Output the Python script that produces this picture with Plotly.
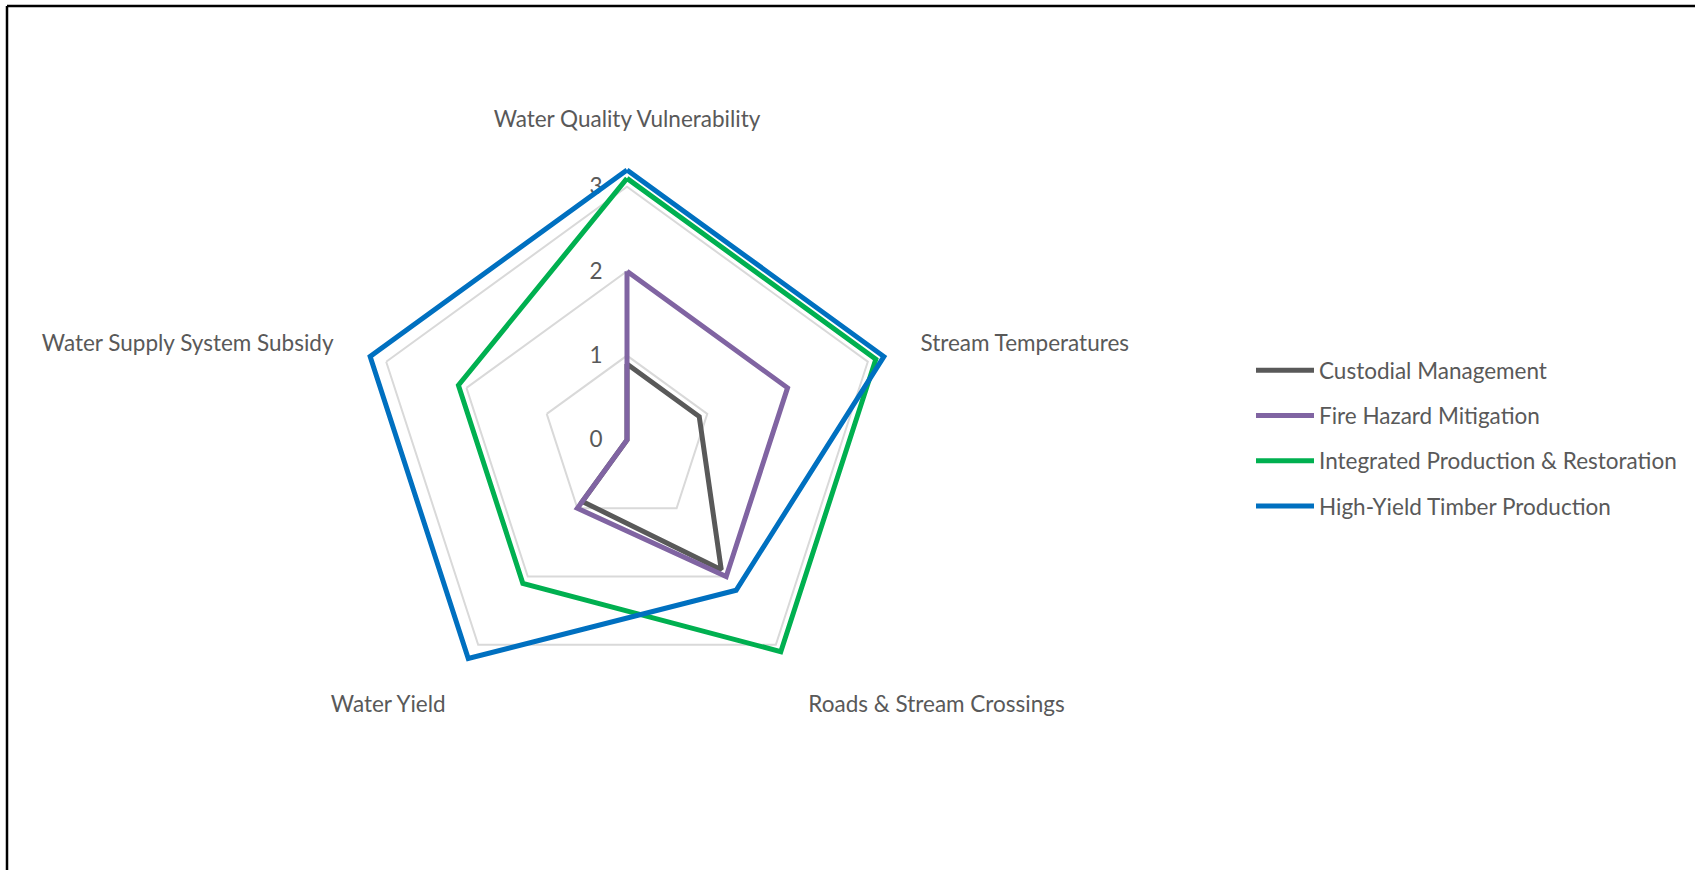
import plotly.graph_objects as go

# Axis categories (clockwise from the top)
categories = [
    "Water Quality Vulnerability",
    "Stream Temperatures",
    "Roads & Stream Crossings",
    "Water Yield",
    "Water Supply System Subsidy",
]

# Scores per scenario (series are nudged by 0.1 so overlapping outlines stay visible)
custodial = [0.9, 0.9, 1.9, 0.9, -0.1]
fire_hazard = [2.0, 2.0, 2.0, 1.0, 0.0]
integrated = [3.1, 3.1, 3.1, 2.1, 2.1]
high_yield = [3.2, 3.2, 2.2, 3.2, 3.2]

series_names = [
    "Custodial Management",
    "Fire Hazard Mitigation",
    "Integrated Production & Restoration",
    "High-Yield Timber Production",
]
series_values = [custodial, fire_hazard, integrated, high_yield]
series_colors = ["#595959", "#8064A2", "#00B050", "#0070C0"]

radial_ticks = [0, 1, 2, 3]

FONT = "Lato"
FONT_SIZE = 22.5
TEXT_COLOR = "#595959"
GRID_COLOR = "#D9D9D9"

W, H = 1695, 870
ML, MT = 7, 6
PW, PH = W - ML, H - MT

# polar area geometry in page pixels
cx, cy = 627, 440
r_max = 3.65
px_per_unit = 84.4
half = r_max * px_per_unit


def px_to_paper_x(px):
    return (px - ML) / PW


def px_to_paper_y(py):
    return (H - py) / PH


fig = go.Figure()
for name, vals, col in zip(series_names, series_values, series_colors):
    fig.add_trace(
        go.Scatterpolar(
            r=vals + vals[:1],
            theta=categories + categories[:1],
            mode="lines",
            name=name,
            legendgroup=name,
            line=dict(color=col, width=5),
            cliponaxis=False,
        )
    )

fig.update_layout(
    width=W,
    height=H,
    margin=dict(l=ML, r=0, t=MT, b=0),
    paper_bgcolor="white",
    plot_bgcolor="white",
    font=dict(family=FONT, size=FONT_SIZE, color=TEXT_COLOR),
    polar=dict(
        domain=dict(
            x=[px_to_paper_x(cx - half), px_to_paper_x(cx + half)],
            y=[px_to_paper_y(cy + half), px_to_paper_y(cy - half)],
        ),
        bgcolor="white",
        gridshape="linear",
        radialaxis=dict(
            range=[0, r_max],
            tickvals=radial_ticks,
            ticktext=[str(v) for v in radial_ticks],
            angle=90,
            tickangle=90,
            side="counterclockwise",
            showline=False,
            showgrid=True,
            gridcolor=GRID_COLOR,
            gridwidth=1.5,
            ticks="outside",
            ticklen=16,
            tickcolor="rgba(0,0,0,0)",
            tickfont=dict(family=FONT, size=FONT_SIZE, color=TEXT_COLOR),
            layer="below traces",
        ),
        angularaxis=dict(
            direction="clockwise",
            rotation=90,
            showline=False,
            showgrid=False,
            ticks="",
            tickfont=dict(family=FONT, size=FONT_SIZE, color=TEXT_COLOR),
            layer="below traces",
        ),
    ),
    legend=dict(
        x=px_to_paper_x(1251),
        y=px_to_paper_y(349),
        xanchor="left",
        yanchor="top",
        bgcolor="rgba(0,0,0,0)",
        borderwidth=0,
        tracegroupgap=13,
        itemwidth=58,
        font=dict(family=FONT, size=FONT_SIZE, color=TEXT_COLOR),
    ),
    shapes=[
        dict(type="line", xref="paper", yref="paper", x0=0, x1=0, y0=0, y1=1,
             line=dict(color="black", width=2.5)),
        dict(type="line", xref="paper", yref="paper", x0=0, x1=1, y0=1, y1=1,
             line=dict(color="black", width=2.5)),
    ],
)

fig.write_html("out.html")
